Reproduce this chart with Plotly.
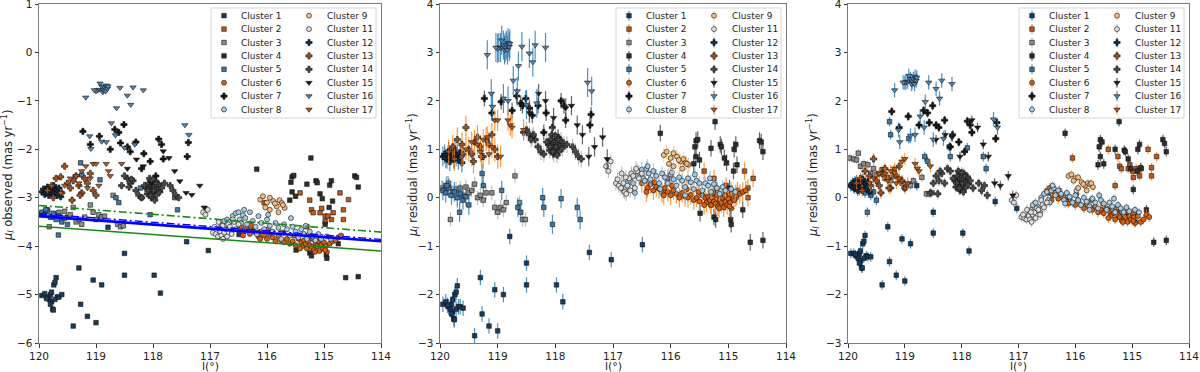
import plotly.graph_objects as go

# rows: (l [deg], mu_l observed, residual model A, residual model B)
c01 = [(119.95, -5.02, -2.20, -1.15), (119.90, -4.98, -2.15, -1.15), (119.85, -5.05, -2.25, -1.20),
       (119.82, -5.10, -2.30, -1.25), (119.80, -5.00, -2.20, -1.15), (119.78, -5.15, -2.35, -1.30),
       (119.76, -5.30, -2.50, -1.45), (119.74, -4.80, -2.00, -0.95), (119.72, -4.75, -1.95, -0.90),
       (119.70, -4.65, -1.82, -0.78), (119.68, -5.05, -2.25, -1.20), (119.80, -5.20, -2.40, -1.35),
       (119.75, -5.32, -2.52, -1.45), (119.72, -5.10, -2.30, -1.25), (119.78, -4.95, -2.10, -1.10),
       (119.65, -5.05, -2.25, -1.22), (119.87, -5.08, -2.22, -1.18), (119.60, -5.00, -2.28, -1.22),
       (119.40, -5.65, -2.85, -1.80), (119.30, -4.45, -1.65, -0.60), (119.27, -5.20, -2.40, -1.32),
       (119.15, -5.45, -2.65, -1.60), (119.05, -4.70, -1.90, -0.85), (119.00, -5.58, -2.75, -1.72),
       (118.90, -4.80, -2.00, -0.95), (118.50, -4.15, -1.35, -0.30), (118.50, -4.60, -1.80, -0.73),
       (117.98, -4.60, -1.80, -0.73), (117.87, -4.97, -2.15, -1.10), (118.79, -3.61, -0.80, 0.25),
       (117.41, -3.91, -1.13, -0.08), (117.03, -4.09, -1.28, -0.22), (116.49, -3.76, -0.97, 0.10)]
c02 = [(115.42, -2.90, 0.55, 1.00), (115.25, -3.05, 0.40, 0.85), (115.22, -3.25, 0.20, 0.65),
       (115.19, -3.31, 0.15, 0.60), (115.07, -3.31, 0.15, 0.60), (115.04, -3.22, 0.25, 0.68),
       (114.98, -3.38, 0.05, 0.55), (114.93, -3.38, 0.08, 0.60), (114.87, -3.45, 0.00, 0.45),
       (114.84, -3.31, 0.15, 0.60), (114.72, -2.90, 0.55, 1.00), (114.66, -3.25, 0.20, 0.62),
       (114.66, -3.45, 0.00, 0.45), (114.57, -3.04, 0.40, 0.85), (114.98, -3.49, -0.05, 0.42),
       (115.30, -3.60, -0.15, 0.25), (116.05, -3.10, 0.40, 0.82)]
c03 = [(119.97, -3.35, 0.20, 0.82), (119.90, -3.30, 0.25, 0.80), (119.85, -3.25, 0.30, 0.78),
       (119.78, -3.40, 0.12, 0.65), (119.72, -3.35, 0.18, 0.70), (119.65, -3.30, 0.20, 0.68),
       (119.60, -3.45, 0.05, 0.50), (119.55, -3.28, 0.22, 0.60), (119.50, -3.40, 0.10, 0.48),
       (119.45, -3.35, 0.15, 0.50), (119.40, -3.20, 0.28, 0.58), (119.35, -3.50, 0.00, 0.40),
       (119.30, -3.45, 0.05, 0.42), (119.25, -3.55, -0.05, 0.35), (119.20, -3.40, 0.10, 0.45),
       (119.10, -3.15, 0.10, 0.38), (119.05, -3.30, -0.20, 0.30), (119.00, -3.45, -0.30, 0.20),
       (118.95, -3.35, -0.20, 0.28), (118.90, -3.40, -0.25, 0.25), (118.85, -3.38, -0.10, 0.35),
       (118.70, -2.95, 0.45, 0.42), (118.62, -3.55, -0.10, 0.08), (118.57, -3.60, -0.45, 0.08),
       (118.52, -3.58, -0.45, 0.10), (119.82, -3.60, -0.45, 0.92)]
c04 = [(116.18, -2.41, 1.33, 1.33), (115.56, -2.57, 1.18, 1.20), (115.53, -2.54, 1.20, 1.15),
       (115.58, -2.68, 1.05, 1.05), (115.30, -2.72, 1.02, 1.00), (115.14, -2.65, 1.10, 0.98),
       (115.12, -2.69, 1.05, 0.95), (114.90, -2.74, 1.00, 1.00), (114.87, -2.65, 1.10, 1.10),
       (114.46, -2.55, 1.18, 1.20), (114.43, -2.58, 1.15, 1.12), (114.40, -2.78, 0.95, 0.95),
       (115.56, -2.88, 0.85, 0.85), (115.60, -3.05, 0.70, 0.68), (115.50, -2.97, 0.78, 0.70),
       (115.07, -2.92, 0.82, 0.80), (115.03, -3.02, 0.72, 0.60), (114.85, -3.07, 0.68, 0.62),
       (114.91, -3.20, 0.55, 0.55), (115.49, -4.08, -0.32, -0.25), (115.25, -4.14, -0.40, -0.35),
       (115.22, -4.20, -0.45, -0.40), (114.96, -4.18, -0.45, -0.35), (114.95, -4.25, -0.55, -0.50),
       (114.62, -4.65, -0.92, -0.92), (114.40, -4.63, -0.88, -0.88), (115.23, -2.18, 1.57, 1.57),
       (114.98, -3.55, 0.20, 0.17), (114.75, -3.95, -0.25, -0.25)]
c05 = [(119.95, -3.30, 0.15, 0.25), (119.90, -3.35, 0.10, 0.20), (119.85, -3.28, 0.20, 0.30),
       (119.80, -3.40, 0.05, 0.15), (119.75, -3.32, 0.12, 0.22), (119.70, -3.45, 0.00, 0.10),
       (119.65, -3.38, 0.08, 0.18), (119.60, -3.50, -0.05, 0.05), (119.55, -3.42, 0.02, 0.12),
       (119.50, -3.55, -0.15, -0.05), (119.88, -3.25, 0.25, 0.35), (119.66, -3.77, -0.30, -0.30),
       (119.27, -2.28, 0.50, 1.57), (119.25, -2.53, 0.25, 1.30), (118.93, -2.63, 0.15, 1.22),
       (118.65, -3.00, -0.20, 0.85), (118.60, -3.10, -0.30, 0.75), (118.22, -2.80, 0.00, 1.05),
       (118.20, -3.00, -0.20, 0.85), (118.05, -3.35, -0.55, 0.50), (117.90, -2.82, -0.02, 1.03),
       (117.62, -3.00, -0.20, 0.85), (117.57, -3.25, -0.45, 0.60)]
c06 = [(116.50, -3.65, 0.30, 0.15), (116.45, -3.60, 0.35, 0.20), (116.40, -3.70, 0.20, 0.05),
       (116.35, -3.62, 0.28, 0.10), (116.30, -3.75, 0.15, -0.02), (116.25, -3.68, 0.22, 0.05),
       (116.20, -3.72, 0.18, 0.00), (116.15, -3.80, 0.10, -0.08), (116.10, -3.70, 0.20, 0.00),
       (116.05, -3.78, 0.12, -0.10), (116.00, -3.85, 0.05, -0.15), (115.95, -3.75, 0.15, -0.05),
       (115.90, -3.82, 0.08, -0.15), (115.85, -3.90, 0.00, -0.22), (115.80, -3.80, 0.10, -0.12),
       (115.75, -3.88, 0.02, -0.20), (115.70, -3.92, 0.00, -0.25), (115.65, -3.85, 0.06, -0.18),
       (115.60, -3.95, -0.05, -0.30), (115.55, -3.90, 0.00, -0.25), (115.50, -3.98, -0.08, -0.32),
       (115.45, -3.85, 0.05, -0.22), (115.40, -3.92, 0.00, -0.28), (115.38, -4.00, -0.10, -0.38),
       (115.35, -3.88, 0.02, -0.25), (115.32, -3.95, -0.05, -0.32), (115.30, -4.05, -0.15, -0.45),
       (115.28, -3.90, 0.00, -0.28), (115.25, -3.98, -0.08, -0.35), (115.22, -4.02, -0.12, -0.40),
       (115.20, -3.85, 0.05, -0.25), (115.18, -4.08, -0.18, -0.48), (115.15, -3.95, -0.05, -0.35),
       (115.12, -4.00, -0.10, -0.40), (115.10, -3.90, 0.00, -0.30), (115.08, -4.10, -0.20, -0.50),
       (115.05, -3.98, -0.08, -0.38), (115.02, -4.05, -0.15, -0.45), (115.00, -3.92, -0.02, -0.32),
       (114.97, -4.00, -0.10, -0.40), (114.95, -4.12, -0.22, -0.52), (114.90, -3.95, -0.05, -0.38),
       (114.85, -3.90, 0.05, -0.50), (114.80, -3.88, 0.08, -0.45), (114.75, -3.82, 0.12, -0.35),
       (114.70, -3.78, 0.15, -0.40), (116.42, -3.78, 0.12, -0.05), (116.28, -3.58, 0.32, 0.15),
       (116.12, -3.85, 0.05, -0.12), (115.98, -3.65, 0.25, 0.08), (115.72, -3.72, 0.18, -0.05),
       (115.52, -3.78, 0.12, -0.12), (115.42, -4.05, -0.15, -0.42), (115.26, -3.80, 0.10, -0.20),
       (115.16, -4.12, -0.22, -0.50), (115.06, -3.85, 0.05, -0.30), (114.98, -4.08, -0.18, -0.48)]
c07 = [(119.23, -1.63, 2.05, 1.78), (119.10, -1.90, 1.75, 1.45), (118.94, -1.73, 1.98, 1.68),
       (118.67, -1.59, 2.10, 1.80), (118.60, -1.65, 1.95, 1.75), (118.51, -1.49, 2.05, 1.90),
       (118.57, -1.87, 1.90, 1.55), (118.45, -1.95, 1.85, 1.50), (118.40, -2.05, 1.70, 1.45),
       (118.30, -1.85, 1.90, 1.60), (118.16, -2.09, 1.75, 1.30), (118.05, -2.25, 1.45, 1.15),
       (117.90, -1.79, 2.00, 1.58), (117.85, -1.90, 1.90, 1.50), (117.82, -2.20, 1.60, 1.35),
       (117.40, -2.15, 1.50, 1.22), (117.38, -1.86, 1.72, 1.55), (118.20, -2.40, 1.35, 1.05),
       (117.95, -2.55, 1.25, 0.95), (118.75, -2.00, 1.80, 1.50)]
c08 = [(116.82, -3.62, 0.15, -0.35), (116.78, -3.55, 0.20, -0.25), (116.75, -3.48, 0.30, -0.15),
       (116.70, -3.45, 0.35, -0.10), (116.65, -3.50, 0.30, -0.20), (116.60, -3.38, 0.45, 0.00),
       (116.55, -3.32, 0.52, 0.08), (116.50, -3.30, 0.58, 0.12), (116.48, -3.45, 0.40, -0.05),
       (116.45, -3.52, 0.35, -0.10), (116.42, -3.36, 0.60, 0.15), (116.38, -3.42, 0.50, 0.20),
       (116.35, -3.55, 0.38, 0.05), (116.30, -3.30, 0.55, 0.15), (116.25, -3.48, 0.45, 0.08),
       (116.20, -3.60, 0.30, -0.05), (116.15, -3.38, 0.50, 0.10), (116.10, -3.52, 0.42, 0.02),
       (116.05, -3.65, 0.30, -0.10), (116.00, -3.45, 0.48, 0.05), (115.95, -3.58, 0.38, -0.05),
       (115.90, -3.70, 0.25, -0.15), (115.85, -3.52, 0.42, 0.00), (115.80, -3.62, 0.35, -0.08),
       (115.75, -3.72, 0.22, -0.18), (115.70, -3.55, 0.40, -0.02), (115.65, -3.65, 0.32, -0.10),
       (115.60, -3.78, 0.18, -0.22), (115.55, -3.60, 0.35, -0.05), (115.50, -3.70, 0.30, -0.12),
       (115.45, -3.82, 0.15, -0.25), (115.40, -3.65, 0.30, -0.10), (115.35, -3.75, 0.25, -0.18),
       (115.30, -3.85, 0.12, -0.30), (115.25, -3.70, 0.28, -0.15), (115.20, -3.80, 0.20, -0.22),
       (115.15, -3.88, 0.08, -0.30), (115.10, -3.75, 0.22, -0.20), (115.05, -3.85, 0.15, -0.28),
       (114.95, -3.80, 0.18, -0.25), (114.88, -3.85, 0.12, -0.30), (116.40, -3.25, 0.65, 0.25),
       (115.58, -3.42, 0.48, 0.05), (115.98, -3.35, 0.52, 0.15), (116.62, -3.70, 0.10, -0.30),
       (115.32, -3.58, 0.40, -0.02), (115.75, -3.85, 0.05, -0.25), (116.18, -3.75, 0.18, -0.12)]
c09 = [(116.12, -3.04, 0.88, 0.45), (116.07, -2.97, 0.95, 0.48), (116.00, -3.10, 0.82, 0.40),
       (115.95, -3.00, 0.92, 0.42), (115.89, -3.07, 0.85, 0.32), (115.83, -3.18, 0.75, 0.25),
       (115.78, -3.05, 0.80, 0.30), (115.74, -3.11, 0.72, 0.28), (115.69, -3.21, 0.68, 0.22),
       (115.95, -3.25, 0.65, 0.20), (115.80, -3.30, 0.60, 0.15), (115.72, -3.15, 0.70, 0.30),
       (115.86, -3.12, 0.78, 0.28), (116.03, -3.20, 0.70, 0.35)]
c11 = [(117.12, -3.30, 0.65, -0.05), (117.08, -3.35, 0.55, -0.10), (117.04, -3.25, 0.75, 0.05),
       (116.95, -3.72, 0.30, -0.40), (116.90, -3.75, 0.25, -0.42), (116.86, -3.80, 0.20, -0.45),
       (116.82, -3.70, 0.30, -0.38), (116.80, -3.78, 0.12, -0.45), (116.77, -3.85, 0.08, -0.50),
       (116.75, -3.72, 0.25, -0.35), (116.72, -3.65, 0.40, -0.30), (116.70, -3.80, 0.15, -0.42),
       (116.68, -3.55, 0.50, -0.22), (116.65, -3.60, 0.45, -0.25), (116.62, -3.75, 0.20, -0.35),
       (116.58, -3.50, 0.55, -0.15), (116.55, -3.65, 0.40, -0.20), (116.85, -3.50, 0.50, -0.25),
       (116.78, -3.58, 0.42, -0.30), (116.92, -3.60, 0.38, -0.35), (116.50, -3.55, 0.50, -0.10),
       (116.60, -3.45, 0.60, -0.05)]
c12 = [(119.95, -2.88, 0.85, 0.25), (119.92, -2.82, 0.90, 0.30), (119.88, -2.90, 0.80, 0.20),
       (119.85, -2.78, 0.95, 0.35), (119.83, -2.95, 0.75, 0.15), (119.80, -2.85, 0.88, 0.28),
       (119.78, -2.80, 0.92, 0.32), (119.76, -2.92, 0.80, 0.20), (119.74, -2.75, 0.98, 0.38),
       (119.72, -2.87, 0.85, 0.25), (119.70, -2.83, 0.90, 0.30), (119.68, -2.95, 0.78, 0.18),
       (119.90, -2.93, 0.82, 0.22), (119.82, -2.86, 0.87, 0.27), (119.75, -2.90, 0.83, 0.23),
       (119.65, -2.80, 0.93, 0.33), (119.62, -2.98, 0.72, 0.12), (119.86, -2.84, 0.88, 0.28)]
c13 = [(119.85, -2.85, 0.95, 0.30), (119.78, -2.75, 1.05, 0.40), (119.70, -2.60, 1.20, 0.55),
       (119.62, -2.57, 1.10, 0.45), (119.55, -2.35, 1.45, 0.80), (119.50, -2.70, 1.00, 0.35),
       (119.45, -2.80, 0.90, 0.25), (119.40, -2.65, 1.15, 0.50), (119.35, -2.55, 1.25, 0.60),
       (119.30, -2.75, 1.05, 0.40), (119.25, -2.90, 0.85, 0.20), (119.20, -2.60, 1.20, 0.55),
       (119.15, -2.70, 1.10, 0.45), (119.10, -2.50, 1.30, 0.65), (119.05, -2.85, 1.00, 0.35),
       (119.00, -2.95, 0.85, 0.20), (119.75, -3.00, 0.80, 0.15), (119.60, -2.90, 0.90, 0.25),
       (119.42, -3.05, 0.75, 0.10), (119.28, -2.95, 0.85, 0.20)]
c14 = [(118.12, -2.80, 1.10, 0.35), (118.08, -2.70, 1.20, 0.45), (118.05, -2.85, 1.05, 0.30),
       (118.02, -2.75, 1.15, 0.40), (118.00, -2.90, 1.00, 0.25), (117.98, -2.78, 1.12, 0.38),
       (117.96, -2.65, 1.25, 0.50), (117.94, -2.95, 0.95, 0.20), (117.92, -2.82, 1.08, 0.33),
       (117.90, -2.72, 1.18, 0.43), (118.10, -2.92, 0.98, 0.22), (118.06, -2.60, 1.30, 0.55),
       (118.03, -3.00, 0.90, 0.15), (117.99, -2.85, 1.05, 0.30), (117.95, -2.70, 1.20, 0.45),
       (117.88, -2.88, 1.02, 0.28), (118.15, -2.75, 1.15, 0.40), (117.85, -2.80, 1.10, 0.35),
       (118.00, -2.62, 1.28, 0.52), (118.04, -2.95, 0.95, 0.20), (117.97, -3.05, 0.88, 0.12),
       (118.09, -2.85, 1.05, 0.30), (118.55, -2.75, 1.35, 0.10), (118.45, -2.60, 1.30, 0.45),
       (118.40, -2.70, 1.25, 0.35), (118.35, -2.65, 1.20, 0.50), (118.30, -2.85, 1.05, 0.30),
       (118.25, -2.95, 0.95, 0.60), (118.20, -3.00, 0.90, 0.55), (117.80, -2.70, 1.10, 0.20),
       (117.70, -2.75, 1.05, 0.30), (117.65, -2.85, 0.95, 0.15), (117.60, -2.95, 0.85, 0.25),
       (117.55, -3.00, 0.80, 0.05), (118.50, -2.55, 1.40, 0.30), (118.42, -2.78, 1.20, 0.08),
       (118.38, -2.62, 1.30, 0.55)]
c15 = [(118.29, -2.21, 2.15, 1.30), (118.17, -2.35, 2.00, 1.25), (118.03, -2.70, 1.65, 0.85),
       (117.82, -2.04, 1.85, 1.60), (117.72, -2.18, 1.90, 1.45), (117.62, -2.45, 1.50, 1.10),
       (117.53, -2.66, 1.30, 0.85), (117.42, -2.90, 0.85, 0.30), (117.32, -2.94, 1.05, 0.25),
       (117.18, -2.75, 1.25, 0.45), (117.10, -3.20, 0.80, 0.05), (118.45, -2.40, 1.75, 1.20)]
c16 = [(118.98, -0.78, 3.10, 2.38), (118.95, -0.77, 3.10, 2.40), (118.93, -0.64, 3.25, 2.52),
       (118.90, -0.70, 3.15, 2.45), (118.88, -0.82, 3.05, 2.35), (118.87, -0.78, 3.10, 2.40),
       (118.85, -0.72, 3.15, 2.45), (118.83, -0.80, 3.05, 2.35), (118.82, -0.68, 3.20, 2.50),
       (118.80, -0.75, 3.12, 2.42), (118.79, -0.70, 3.18, 2.48), (119.00, -0.80, 3.08, 2.38),
       (119.03, -0.78, 3.10, 2.38), (119.18, -0.93, 2.95, 2.22), (118.64, -1.15, 2.72, 1.98),
       (118.58, -0.73, 3.12, 2.38), (118.45, -0.89, 2.98, 2.25), (118.35, -0.72, 3.15, 2.42),
       (118.17, -0.78, 3.10, 2.35), (118.39, -1.08, 2.80, 2.05), (118.73, -1.46, 2.42, 1.68),
       (118.66, -1.71, 2.20, 1.45), (119.11, -1.73, 2.15, 1.40), (119.09, -1.99, 1.88, 1.15),
       (118.90, -1.84, 2.05, 1.28), (118.50, -1.97, 1.92, 1.20), (117.44, -1.50, 2.38, 1.62),
       (117.37, -1.70, 2.20, 1.45), (118.82, -1.85, 2.00, 1.30), (118.32, -1.90, 1.95, 1.22)]
c17 = [(119.35, -2.55, 1.10, 0.50), (119.25, -2.45, 1.20, 0.55), (119.18, -2.35, 1.25, 0.60),
       (119.10, -2.60, 1.05, 0.40), (119.05, -2.30, 1.60, 0.75), (119.00, -2.30, 1.60, 0.80),
       (118.95, -2.75, 0.85, 0.30), (118.82, -2.30, 1.60, 0.70), (118.78, -2.45, 1.50, 0.60),
       (118.75, -2.55, 1.45, 0.55), (118.55, -2.30, 1.40, 0.65), (119.30, -2.70, 0.95, 0.35),
       (119.15, -2.80, 0.90, 0.30), (119.45, -2.60, 1.15, 0.50), (119.55, -2.75, 1.00, 0.40),
       (119.62, -2.90, 0.85, 0.30)]

cluster_names = ["Cluster 1", "Cluster 2", "Cluster 3", "Cluster 4", "Cluster 5", "Cluster 6",
                 "Cluster 7", "Cluster 8", "Cluster 9", "Cluster 11", "Cluster 12", "Cluster 13",
                 "Cluster 14", "Cluster 15", "Cluster 16", "Cluster 17"]
cluster_rows = [c01, c02, c03, c04, c05, c06, c07, c08, c09, c11, c12, c13, c14, c15, c16, c17]

# 1-sigma errors on the residuals, per cluster
err_mid = [0.16, 0.18, 0.15, 0.17, 0.20, 0.20, 0.16, 0.15, 0.15, 0.15, 0.20, 0.25, 0.17, 0.20, 0.30, 0.22]
err_right = [0.10, 0.10, 0.09, 0.10, 0.10, 0.10, 0.09, 0.09, 0.09, 0.10, 0.12, 0.12, 0.11, 0.10, 0.15, 0.12]

# rotation-curve models (endpoints in l)
fit_l = [120, 114]
fit_blue = [-3.38, -3.90]
fit_blue_dd = [-3.33, -3.86]
fit_green_dd = [-3.16, -3.71]
fit_green = [-3.59, -4.10]

x_ticks = [120, 119, 118, 117, 116, 115, 114]
y_ticks_obs = [1, 0, -1, -2, -3, -4, -5, -6]
y_ticks_res = [4, 3, 2, 1, 0, -1, -2, -3]

# styling
fills = ["#163c60", "#c4591a", "#8e8e8e", "#2e2e2e", "#3f78a6", "#d9600f", "#141414", "#a7cbe6",
         "#f7bb82", "#dedede", "#0e2c4a", "#a9531f", "#4a4a4a", "#1c1c1c", "#5288b8", "#bb5a1e"]
symbols = ["square"] * 5 + ["circle", "cross", "circle", "circle", "circle", "cross", "cross",
                            "cross", "triangle-down", "triangle-down", "triangle-down"]
C0 = "rgba(31,119,180,0.8)"
C1 = "rgba(255,127,14,0.8)"
GR = "rgba(165,165,165,0.7)"
DK = "rgba(60,60,60,0.8)"
LB = "rgba(140,190,230,0.8)"
LO = "rgba(253,190,130,0.8)"
ecolors = [C0, C1, GR, DK, C0, C1, DK, LB, LO, GR, C0, C1, GR, DK, C0, C1]
msize = {"square": 4.5, "circle": 5, "cross": 5.2, "triangle-down": 5.5}

W, H = 1200, 372
panel_px = [(39, 381), (440, 786), (848, 1189)]
top_px, bot_px = 4, 343
yranges = [(-6, 1), (-3, 4), (-3, 4)]
ydom = [1 - bot_px / H, 1 - top_px / H]
font = "DejaVu Sans"

fig = go.Figure()

for p in range(3):
    xa = "x" if p == 0 else "x%d" % (p + 1)
    ya = "y" if p == 0 else "y%d" % (p + 1)
    for i, rows in enumerate(cluster_rows):
        ls = [r[0] for r in rows]
        vals = [r[p + 1] for r in rows]
        err = None
        if p > 0:
            e = err_mid[i] if p == 1 else err_right[i]
            err = dict(type="constant", value=e, color=ecolors[i], thickness=1.2, width=0)
        fig.add_trace(go.Scatter(
            x=ls, y=vals, mode="markers", xaxis=xa, yaxis=ya, showlegend=False,
            marker=dict(symbol=symbols[i], size=msize[symbols[i]], color=fills[i],
                        line=dict(color="#111111", width=0.6)),
            error_y=err))

# model lines on the observed panel
fig.add_trace(go.Scatter(x=fit_l, y=fit_green, mode="lines", showlegend=False,
                         line=dict(color="#138a13", width=1.6)))
fig.add_trace(go.Scatter(x=fit_l, y=fit_green_dd, mode="lines", showlegend=False,
                         line=dict(color="#138a13", width=1.6, dash="8px,3px,2px,3px")))
fig.add_trace(go.Scatter(x=fit_l, y=fit_blue, mode="lines", showlegend=False,
                         line=dict(color="#0000ff", width=2.6)))
fig.add_trace(go.Scatter(x=fit_l, y=fit_blue_dd, mode="lines", showlegend=False,
                         line=dict(color="#0000ff", width=1.4, dash="8px,3px,2px,3px")))

annotations = []
# hand-built two-column legends (matplotlib-like compact spacing)
for p in range(3):
    lo, hi = panel_px[p]
    y0, y1 = yranges[p]
    xa = "x" if p == 0 else "x%d" % (p + 1)
    ya = "y" if p == 0 else "y%d" % (p + 1)

    def dx(X):
        return 120 - 6 * (X - lo) / (hi - lo)

    def dy(Y):
        return y1 - (y1 - y0) * (Y - top_px) / (bot_px - top_px)

    bx = [dx(hi - 170), dx(hi - 5), dx(hi - 5), dx(hi - 170), dx(hi - 170)]
    by = [dy(8), dy(8), dy(118), dy(118), dy(8)]
    fig.add_trace(go.Scatter(x=bx, y=by, mode="lines", fill="toself", xaxis=xa, yaxis=ya,
                             fillcolor="rgba(255,255,255,0.85)", showlegend=False,
                             line=dict(color="#d4d4d4", width=1)))
    for i, name in enumerate(cluster_names):
        col, row = divmod(i, 8)
        mx = hi - (157 if col == 0 else 72)
        tx = hi - (142 if col == 0 else 56)
        Y = 15.7 + 13.4 * row
        err = None
        if p > 0:
            err = dict(type="constant", value=5 * (y1 - y0) / (bot_px - top_px),
                       color=ecolors[i], thickness=1.2, width=0)
        fig.add_trace(go.Scatter(
            x=[dx(mx)], y=[dy(Y)], mode="markers", xaxis=xa, yaxis=ya, showlegend=False,
            marker=dict(symbol=symbols[i], size=msize[symbols[i]], color=fills[i],
                        line=dict(color="#111111", width=0.6)),
            error_y=err))
        annotations.append(dict(x=dx(tx), y=dy(Y), xref=xa, yref=ya, text=name, showarrow=False,
                                xanchor="left", yanchor="middle",
                                font=dict(family=font, size=9, color="#222")))

# axis titles placed as paper annotations
ytitles = ["<i>μ<sub>l</sub></i> observed (mas yr<sup>−1</sup>)",
           "<i>μ<sub>l</sub></i> residual (mas yr<sup>−1</sup>)",
           "<i>μ<sub>l</sub></i> residual (mas yr<sup>−1</sup>)"]
ytitle_px = [8, 413, 813]
for p in range(3):
    lo, hi = panel_px[p]
    annotations.append(dict(x=(lo + hi) / 2 / W, y=1 - 366.5 / H, xref="paper", yref="paper",
                            text="l(°)", showarrow=False, xanchor="center", yanchor="middle",
                            font=dict(family=font, size=11, color="#222")))
    annotations.append(dict(x=ytitle_px[p] / W, y=1 - 175 / H, xref="paper", yref="paper",
                            text=ytitles[p], showarrow=False, textangle=-90,
                            xanchor="center", yanchor="middle",
                            font=dict(family=font, size=11.5, color="#222")))

axis_common = dict(showgrid=False, zeroline=False, showline=True, mirror=True, automargin=False,
                   linecolor="#7a7a7a", linewidth=1, ticks="outside", ticklen=3.5,
                   tickcolor="#333", ticklabeloverflow="allow",
                   tickfont=dict(family=font, size=10.5, color="#222"))

layout = dict(width=W, height=H, margin=dict(l=0, r=0, t=0, b=0, autoexpand=False),
              paper_bgcolor="white", plot_bgcolor="white", annotations=annotations,
              font=dict(family=font, color="#222"))
for p in range(3):
    lo, hi = panel_px[p]
    suffix = "" if p == 0 else str(p + 1)
    yvals = y_ticks_obs if p == 0 else y_ticks_res
    layout["xaxis" + suffix] = dict(
        axis_common, domain=[lo / W, hi / W], range=[120, 114], anchor="y" + suffix,
        tickvals=x_ticks, ticktext=[str(v) for v in x_ticks])
    layout["yaxis" + suffix] = dict(
        axis_common, domain=ydom, range=list(yranges[p]), anchor="x" + suffix,
        tickvals=yvals, ticktext=[str(v).replace("-", "−") for v in yvals])

fig.update_layout(**layout)
# drop the browser's default page margin so the figure sits at the window origin
fig.write_html("out.html", config={"displayModeBar": False},
               post_script="document.body.style.margin='0px';")
